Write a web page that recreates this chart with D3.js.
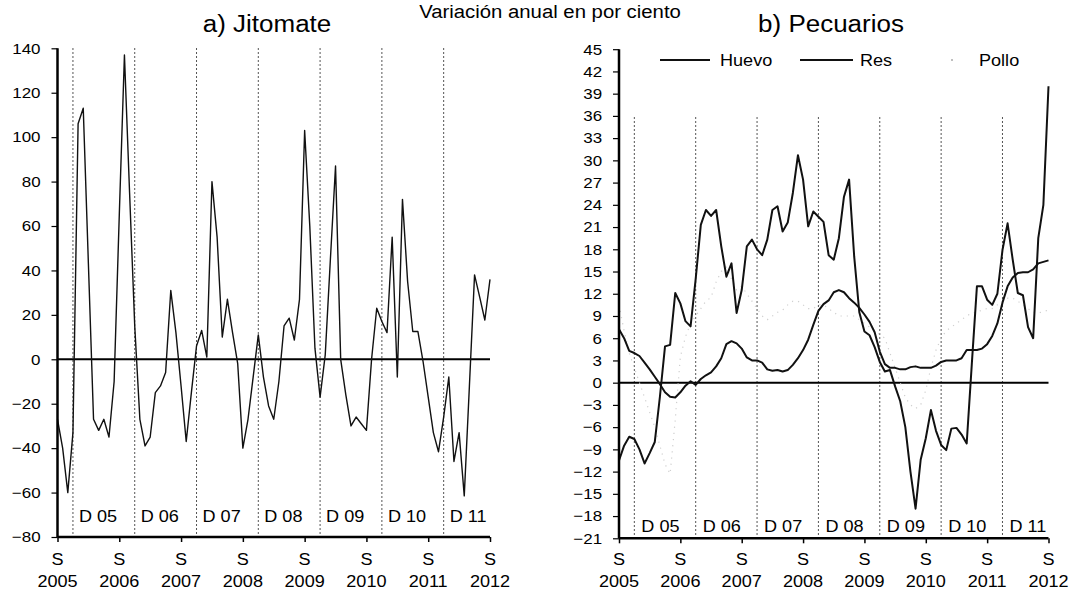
<!DOCTYPE html>
<html>
<head>
<meta charset="utf-8">
<script src="https://cdn.jsdelivr.net/npm/d3@7"></script>
<style>
  html, body { margin: 0; padding: 0; background: #fff; }
  svg { display: block; font-family: "Liberation Sans", Arial, sans-serif; }
</style>
</head>
<body>
<svg id="chart" width="1076" height="589"></svg>
<script>
// ---------------- DATA ----------------
const mainTitle = "Variación anual en por ciento";
const titleLeft = "a) Jitomate";
const titleRight = "b) Pecuarios";
const yearLabels = ["2005", "2006", "2007", "2008", "2009", "2010", "2011", "2012"];
const monthLabel = "S";
const tickMonths = [0, 12, 24, 36, 48, 60, 72, 84];
const decLabels = ["D 05", "D 06", "D 07", "D 08", "D 09", "D 10", "D 11"];
const decMonths = [3, 15, 27, 39, 51, 63, 75];
const leftTicks = [-80, -60, -40, -20, 0, 20, 40, 60, 80, 100, 120, 140];
const rightTicks = [-21, -18, -15, -12, -9, -6, -3, 0, 3, 6, 9, 12, 15, 18, 21, 24, 27, 30, 33, 36, 39, 42, 45];
const seriesNames = ["Huevo", "Res", "Pollo"];

// Jitomate, monthly, Sep 2005 .. Sep 2012
const jitomate = [
  -27, -40, -60, -33, 106, 113, 43, -27, -32, -27,
  -35, -10, 65, 137, 75, 15, -27, -39, -35, -15,
  -12, -6, 31, 12, -12, -37, -15, 6, 13, 1,
  80, 55, 10, 27, 12, -2, -40, -27, -8, 11,
  -8, -21, -27, -10, 15, 18.5, 8.7, 27, 103, 60,
  5, -17, 2, 45, 87, 0, -16, -30, -26, -29,
  -32, 0, 23, 17, 12, 55, -8, 72, 35, 12.5,
  12.5, -1, -17, -33, -41.6, -26, -8, -46, -33, -61.5,
  -12, 38, 28, 17.7, 36
];

const huevo = [
  -10.5, -8.5, -7.3, -7.6, -9, -10.9, -9.5, -8.0, -1.9, 4.9,
  5.1, 12.1, 10.7, 8.3, 7.6, 14, 21.3, 23.3, 22.5, 23.3,
  18.4, 14.3, 16.1, 9.4, 12.5, 18.4, 19.3, 18, 17.2, 19.3,
  23.3, 23.8, 20.4, 21.6, 25.6, 30.7, 27.4, 21.1, 23.1, 22.4,
  21.7, 17.2, 16.6, 19.5, 25.1, 27.4, 17, 9.5, 6.9, 6.4,
  4.8, 2.8, 1.5, 1.7, -0.5, -2.5, -6, -12, -17, -10.4,
  -7.5, -3.7, -6.5, -8.4, -9.1, -6.2, -6.1, -7, -8.2, 2.5,
  13, 13, 11.2, 10.5, 12, 17.9, 21.5, 16.6, 12.1, 11.8,
  7.5, 6, 19.5, 24, 40
];

const res = [
  7.2, 6.0, 4.3, 4.0, 3.6, 2.7, 1.8, 0.8, -0.2, -1.3,
  -1.9, -2.0, -1.3, -0.4, 0.2, -0.3, 0.5, 1.0, 1.4, 2.2,
  3.3, 5.2, 5.6, 5.3, 4.6, 3.4, 3.0, 3.0, 2.7, 1.8,
  1.6, 1.7, 1.5, 1.7, 2.4, 3.3, 4.4, 5.8, 7.8, 9.7,
  10.6, 11.1, 12.2, 12.5, 12.2, 11.4, 10.8, 10.1, 9.2, 8.2,
  6.8, 4.2, 2.5, 2.0, 2.0, 1.8, 1.8, 2.1, 2.2, 2.0,
  2.0, 2.0, 2.3, 2.8, 3.0, 3.0, 3.0, 3.3, 4.4, 4.4,
  4.4, 4.6, 5.2, 6.3, 8.0, 10.8, 13.0, 14.2, 14.8, 14.9,
  14.9, 15.3, 16.1, 16.3, 16.5
];

const pollo = [
  10.5, 7, 4, 2, 0, -2, -4, -6, -8.5, -11,
  -12.3, -5, 3.5, 6.2, 8, 9, 10, 11, 11.5, 13.6,
  15, 15.6, 14, 12.5, 13, 12, 11, 10, 9, 8.5,
  9, 9.5, 9.8, 10.5, 11, 11, 10.5, 10, 10, 10.5,
  10.5, 10, 9.5, 9, 9, 9, 9, 8.5, 8, 7.5,
  7, 6.5, 6, 4, 2, 0, -2, -3, -3.5, -3,
  -1, 2, 4.4, 6, 7, 7.5, 8, 8.5, 9, 9.4,
  9.5, 9.8, 10, 10, 10.5, 11, 11.4, 11.4, 11, 10.5,
  10, 9.5, 9.4, 9.6, 9.8
];

// ---------------- DRAWING ----------------
const svg = d3.select("#chart");
const SX = 1.13; // horizontal stretch of scanned lettering

function stext(g, x, y, str, size, anchor) {
  return g.append("text")
    .attr("transform", `translate(${x},${y}) scale(${SX},1)`)
    .attr("text-anchor", anchor || "middle")
    .attr("font-size", size)
    .attr("fill", "#000")
    .text(str);
}

svg.append("rect").attr("width", 1076).attr("height", 589).attr("fill", "#fff");

// main title
stext(svg, 550, 18, mainTitle, 18, "middle");

function panel(opts) {
  const { x, y, ticks, title, titleX, dashTop, decOffset, decBase, data } = opts;
  const g = svg.append("g");

  stext(g, titleX, 31.5, title, 23, "middle");

  // dashed december lines
  decMonths.forEach((m, k) => {
    g.append("line")
      .attr("x1", x(m)).attr("x2", x(m))
      .attr("y1", dashTop).attr("y2", y.range()[0])
      .attr("stroke", "#555").attr("stroke-width", 1)
      .attr("stroke-dasharray", "2,2");
    stext(g, x(m) + decOffset, decBase, decLabels[k], 16, "start");
  });

  // zero line
  g.append("line")
    .attr("x1", x.range()[0]).attr("x2", x.range()[1])
    .attr("y1", y(0)).attr("y2", y(0))
    .attr("stroke", "#000").attr("stroke-width", 2);

  // series
  data.forEach(s => {
    g.append("path")
      .datum(s.values)
      .attr("fill", "none")
      .attr("stroke", s.color)
      .attr("stroke-width", s.width)
      .attr("stroke-dasharray", s.dash || null)
      .attr("stroke-linejoin", "round")
      .attr("d", d3.line().x((d, i) => x(i)).y(d => y(d)));
  });

  // y axis
  const ya = g.append("g")
    .attr("transform", `translate(${x.range()[0]},0)`)
    .call(d3.axisLeft(y).tickValues(ticks).tickSize(6).tickPadding(9).tickFormat(d3.format("d")));
  ya.select(".domain").attr("stroke-width", 2.5).attr("d", `M0,${y.range()[0]}V${y.range()[1]}`);
  ya.selectAll(".tick line").attr("stroke-width", 1.2);
  ya.selectAll("text")
    .attr("font-size", 15)
    .attr("font-family", "Liberation Sans, Arial, sans-serif")
    .attr("fill", "#000")
    .attr("transform", `scale(${SX},1)`);

  // x axis
  const xa = g.append("g")
    .attr("transform", `translate(0,${y.range()[0]})`)
    .call(d3.axisBottom(x).tickValues(tickMonths).tickSize(5).tickFormat(""));
  xa.select(".domain").attr("stroke-width", 2.5).attr("d", `M${x.range()[0]},0H${x.range()[1]}`);
  xa.selectAll(".tick line").attr("stroke-width", 1.5);
  tickMonths.forEach((m, k) => {
    stext(g, x(m), 565, monthLabel, 16, "middle");
    stext(g, x(m), 586.5, yearLabels[k], 16, "middle");
  });
  return g;
}

// Left panel: Jitomate
const xL = d3.scaleLinear().domain([0, 84]).range([57.5, 490]);
const yL = d3.scaleLinear().domain([-80, 140]).range([537, 48.3]);
panel({
  x: xL, y: yL, ticks: leftTicks, title: titleLeft, titleX: 267,
  dashTop: 48, decOffset: 6, decBase: 521.5,
  data: [{ values: jitomate, color: "#111", width: 1.4 }]
});

// Right panel: Pecuarios
const xR = d3.scaleLinear().domain([0, 84]).range([619, 1048.5]);
const yR = d3.scaleLinear().domain([-21, 45]).range([538.3, 49.2]);
const gR = panel({
  x: xR, y: yR, ticks: rightTicks, title: titleRight, titleX: 831,
  dashTop: 117, decOffset: 7, decBase: 531.5,
  data: [
    { values: pollo, color: "#cfcfcf", width: 1.2, dash: "1.2,5" },
    { values: res, color: "#111", width: 2 },
    { values: huevo, color: "#111", width: 2 }
  ]
});

// legend
const legend = [
  { name: seriesNames[0], x1: 660, x2: 710, tx: 720, color: "#111", w: 1.8 },
  { name: seriesNames[1], x1: 800, x2: 853, tx: 860, color: "#111", w: 1.8 },
  { name: seriesNames[2], x1: 951, x2: 953, tx: 979, color: "#aaa", w: 1.5 }
];
legend.forEach(l => {
  gR.append("line")
    .attr("x1", l.x1).attr("x2", l.x2).attr("y1", 60).attr("y2", 60)
    .attr("stroke", l.color).attr("stroke-width", l.w);
  stext(gR, l.tx, 65.5, l.name, 16, "start");
});
</script>
</body>
</html>
